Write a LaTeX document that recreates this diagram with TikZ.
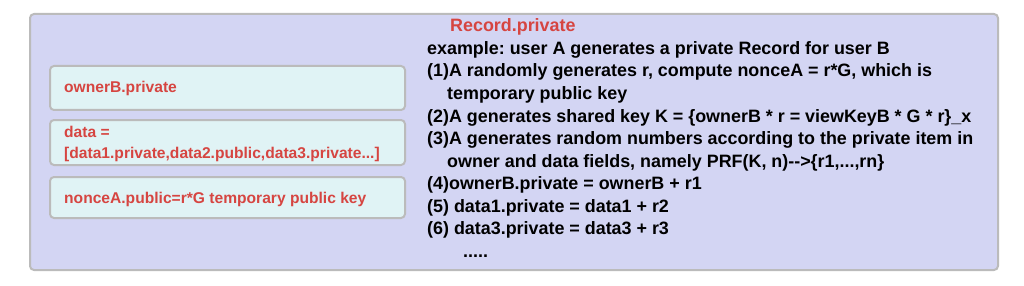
\documentclass[tikz,border=0pt]{standalone}
\usepackage{fontspec}
\setmainfont{Liberation Sans}
\frenchspacing
\definecolor{outerfill}{HTML}{D3D5F3}
\definecolor{innerfill}{HTML}{E0F3F5}
\definecolor{boxline}{HTML}{BBBBBB}
\definecolor{redtxt}{HTML}{D64541}
\begin{document}
\begin{tikzpicture}[x=1pt,y=-1pt,
  outer/.style={draw=boxline,line width=2pt,fill=outerfill,rounded corners=4pt},
  inner/.style={draw=boxline,line width=2pt,fill=innerfill,rounded corners=4pt},
  redline/.style={anchor=base west,inner sep=0pt,text=redtxt,font=\fontsize{15.6}{18}\selectfont\bfseries},
  blackline/.style={anchor=base west,inner sep=0pt,text=black,font=\fontsize{17.9}{20}\selectfont\bfseries}]
\useasboundingbox (0,0) rectangle (1024,286);
\draw[outer] (30,14) rectangle (998,270);
\draw[inner] (50,66) rectangle (405,110);
\draw[inner] (50,120) rectangle (405,165);
\draw[inner] (50,177) rectangle (405,218);
\node[redline] (ob) at (64,93) {ownerB.private};
\node[redline] (d1) at (64,137) {data =};
\node[redline] (d2) at (64,158) {[data1.private,data2.public,data3.private...]};
\node[redline] (na) at (64,203) {nonceA.public=r*G temporary public key};
\node[blackline,text=redtxt] (title) at (450,32) {Record.private};
\node[blackline] (l0) at (427,54.5) {example: user A generates a private Record for user B};
\node[blackline] (l1) at (427,77) {(1)A randomly generates r, compute nonceA = r*G, which is};
\node[blackline] (l1b) at (447,99.5) {temporary public key};
\node[blackline] (l2) at (427,122) {(2)A generates shared key K = \{ownerB * r = viewKeyB * G * r\}\_x};
\node[blackline] (l3) at (427,144.5) {(3)A generates random numbers according to the private item in};
\node[blackline] (l3b) at (447,167) {owner and data fields, namely PRF(K, n)-{}->\{r1,...,rn\}};
\node[blackline] (l4) at (427,189.5) {(4)ownerB.private = ownerB + r1};
\node[blackline] (l5) at (427,212) {(5) data1.private = data1 + r2};
\node[blackline] (l6) at (427,234.5) {(6) data3.private = data3 + r3};
\node[blackline] (l7) at (463,257) {.....};
\end{tikzpicture}
\end{document}
